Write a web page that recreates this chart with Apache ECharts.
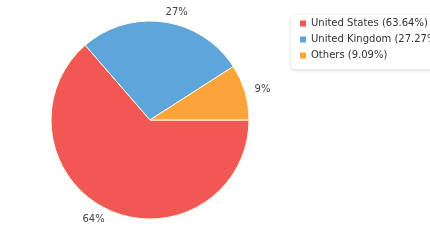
<!DOCTYPE html>
<html><head><meta charset="utf-8">
<script src="https://cdn.jsdelivr.net/npm/echarts@6/dist/echarts.min.js"></script>
<style>html,body{margin:0;padding:0;background:#fff}#c{width:430px;height:250px}</style>
</head><body><div id="c"></div>
<script>
const categories = ['United States', 'United Kingdom', 'Others'];
const values = [63.64, 27.27, 9.09];
const colors = ['#F15854', '#5DA5DA', '#FAA43A'];

const chart = echarts.init(document.getElementById('c'), null, {renderer: 'canvas'});
chart.setOption({
  animation: false,
  color: colors,
  legend: {
    orient: 'vertical',
    left: 291,
    top: 15,
    padding: [2, 10, 7, 9],
    itemWidth: 6,
    itemHeight: 6,
    itemGap: 3,
    icon: 'rect',
    itemStyle: {borderWidth: 0},
    backgroundColor: '#fff',
    borderRadius: 4,
    shadowColor: 'rgba(0,0,0,0.15)',
    shadowBlur: 4,
    shadowOffsetY: 1,
    textStyle: {fontFamily: 'DejaVu Sans, sans-serif', fontSize: 10, color: '#333', lineHeight: 13},
    formatter: function (name) {
      const i = categories.indexOf(name);
      return name + ' (' + values[i].toFixed(2) + '%)';
    },
    data: categories
  },
  series: [{
    type: 'pie',
    center: [150, 120],
    radius: 99,
    startAngle: 0,
    clockwise: true,
    itemStyle: {borderColor: '#FFF8DC', borderWidth: 1},
    label: {
      show: true,
      position: 'outside',
      distanceToLabelLine: 0,
      fontFamily: 'DejaVu Sans, sans-serif',
      fontSize: 10,
      color: '#444',
      formatter: function (p) { return Math.round(p.value) + '%'; }
    },
    labelLine: {show: false, length: 10, length2: 0},
    emphasis: {disabled: true},
    data: categories.map((n, i) => ({name: n, value: values[i]}))
  }]
});
</script></body></html>
